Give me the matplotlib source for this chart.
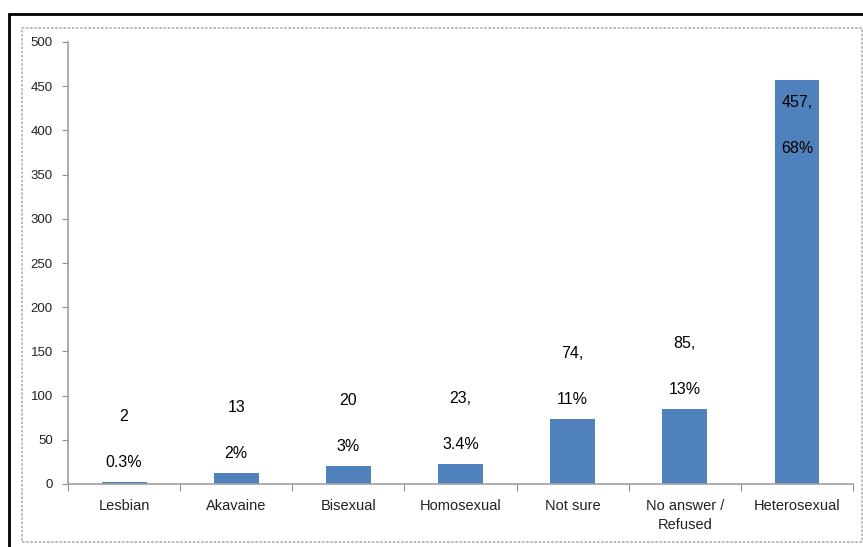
import matplotlib.pyplot as plt
from matplotlib.patches import Rectangle
import numpy as np

# données
categories = ["Lesbian", "Akavaine", "Bisexual", "Homosexual", "Not sure",
              "No answer /\nRefused", "Heterosexual"]
counts = [2, 13, 20, 23, 74, 85, 457]
count_labels = ["2", "13", "20", "23,", "74,", "85,", "457,"]
pct_labels = ["0.3%", "2%", "3%", "3.4%", "11%", "13%", "68%"]
yticks = [0, 50, 100, 150, 200, 250, 300, 350, 400, 450, 500]

W, H = 863, 547
fig = plt.figure(figsize=(W / 100, H / 100), dpi=100)
plt.rcParams['font.family'] = ['Liberation Sans', 'DejaVu Sans']

# cadres
fig.patches.append(Rectangle((9 / W, -0.01), 1.0, 1 - 14 / H + 0.01, transform=fig.transFigure,
                             fill=False, edgecolor='black', linewidth=2))
fig.patches.append(Rectangle((22 / W, 1 - 542 / H), (862 - 22) / W, (542 - 28) / H,
                             transform=fig.transFigure, fill=False, edgecolor='#b0b0b0',
                             linewidth=1.2, linestyle=(0, (1.5, 1))))

ax = fig.add_axes([68 / W, 1 - 484 / H, (853 - 68) / W, (484 - 42) / H])
x = np.arange(len(categories))
ax.bar(x, counts, width=0.4, color='#4f81bd')

ax.set_xlim(-0.5, len(categories) - 0.5)
ax.set_ylim(0, 500)
ax.set_yticks(yticks)
ax.set_xticks(np.arange(-0.5, len(categories)), labels=[])
ax.set_xticks(x, labels=categories, minor=True)
for t in ax.get_xticklabels(minor=True):
    t.set_linespacing(1.45)
ax.tick_params(axis='x', which='minor', length=0, pad=11, labelsize=10.5, labelcolor='#222222')
ax.tick_params(axis='x', which='major', length=5, color='#909090', direction='out')
ax.tick_params(axis='y', length=4, color='#909090', labelsize=9.5, labelcolor='#222222', pad=7)
for s in ['top', 'right']:
    ax.spines[s].set_visible(False)
for s in ['left', 'bottom']:
    ax.spines[s].set_color('#a0a0a0')
    ax.spines[s].set_linewidth(1.2)

# étiquettes de données
for i, v in enumerate(counts):
    if v > 300:
        ax.text(i, v - 25, count_labels[i], ha='center', va='center', fontsize=11.5)
        ax.text(i, v - 77, pct_labels[i], ha='center', va='center', fontsize=11.5)
    else:
        ax.text(i, v + 22, pct_labels[i], ha='center', va='center', fontsize=11.5)
        ax.text(i, v + 74, count_labels[i], ha='center', va='center', fontsize=11.5)

fig.savefig("out.png", dpi=100)
